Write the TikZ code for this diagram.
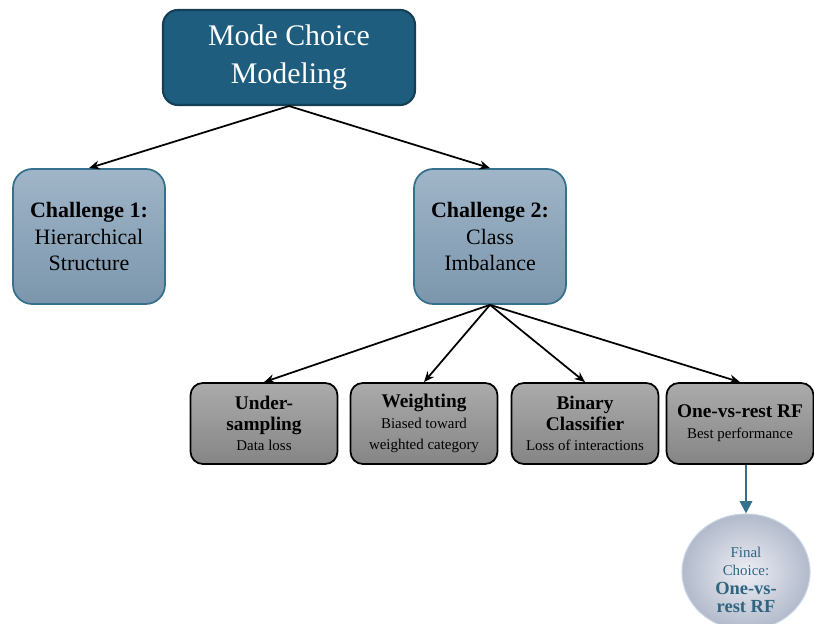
\documentclass[tikz,border=0pt]{standalone}
\usepackage{fontspec}
\setmainfont{Liberation Serif}
\usetikzlibrary{arrows.meta,shapes.geometric}

\definecolor{topfill}{HTML}{1E5D7E}
\definecolor{topedge}{HTML}{153F54}
\definecolor{chtop}{HTML}{A0B5C8}
\definecolor{chbot}{HTML}{7B96AC}
\definecolor{chedge}{HTML}{36708C}
\definecolor{grtop}{HTML}{ABABAB}
\definecolor{grbot}{HTML}{858585}
\definecolor{elin}{HTML}{EEEEF4}
\definecolor{elout}{HTML}{B2BACB}
\definecolor{eledge}{HTML}{C9D5E4}
\definecolor{finaltxt}{HTML}{2F6581}

\newcommand{\notefont}{\fontsize{8.5}{10}\selectfont}

\begin{document}
\begin{tikzpicture}[
	mainbox/.style={draw=topedge, line width=1.2pt, rounded corners=8.5pt, fill=topfill,
		text=white, minimum width=5.04cm, minimum height=1.9cm, align=center,
		font=\fontsize{17}{21.5}\selectfont},
	challengebox/.style={draw=chedge, line width=1pt, rounded corners=11pt,
		top color=chtop, bottom color=chbot, minimum width=3.04cm, minimum height=2.7cm,
		align=center, font=\fontsize{12.5}{15.2}\selectfont},
	methodbox/.style={draw=black, line width=1pt, rounded corners=7pt,
		top color=grtop, bottom color=grbot, minimum width=2.94cm, minimum height=1.62cm,
		align=center, font=\fontsize{11}{11.8}\selectfont},
	finalnode/.style={ellipse, draw=eledge, line width=0.6pt, inner color=elin, outer color=elout,
		minimum width=2.56cm, minimum height=2.32cm, inner sep=0pt, align=center,
		text=finaltxt, font=\fontsize{10.5}{10.5}\selectfont},
	arr/.style={-{Stealth[length=6pt,width=5pt]}, line width=1pt},
	finalarr/.style={-{Triangle[length=7pt,width=7pt]}, line width=1.3pt, draw=chedge, fill=chedge}
]
\useasboundingbox (0,0) rectangle (16.28,12.48);

\node[mainbox] (model) at (5.78,11.33) {Mode Choice\\Modeling};

\node[challengebox] (hier) at (1.78,7.75) {\textbf{Challenge 1:}\\Hierarchical\\Structure};
\node[challengebox] (imbal) at (9.80,7.75) {\textbf{Challenge 2:}\\Class\\Imbalance};

\node[methodbox] (under) at (5.28,4.01) {\textbf{Under-}\\\textbf{sampling}\\{\notefont Data loss}};
\node[methodbox] (weight) at (8.48,4.01) {\textbf{Weighting}\\{\notefont Biased toward}\\{\notefont weighted category}};
\node[methodbox] (binary) at (11.70,4.01) {\textbf{Binary}\\\textbf{Classifier}\\{\notefont Loss of interactions}};
\node[methodbox] (ovr) at (14.80,4.01) {\textbf{One-vs-rest RF}\\{\notefont Best performance}};

\node[finalnode] (final) at (14.92,1.04) {\rule{0pt}{15pt}{\notefont Final}\\{\notefont Choice:}\\\textbf{One-vs-}\\\textbf{rest RF}};

\draw[arr] (model.south) -- (hier.north);
\draw[arr] (model.south) -- (imbal.north);

\foreach \m in {under,weight,binary,ovr}{
	\draw[arr] (imbal.south) -- (\m.north);
}

\draw[finalarr] (final.north |- ovr.south) -- (final.north);
\end{tikzpicture}
\end{document}
